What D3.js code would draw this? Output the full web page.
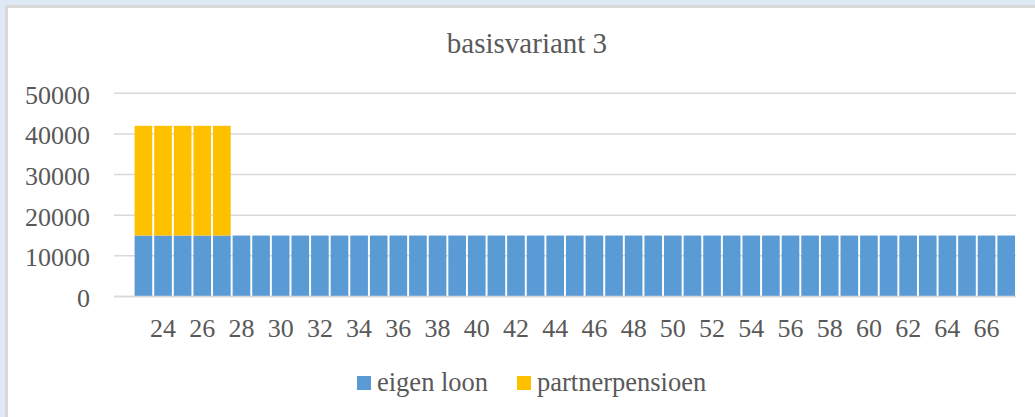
<!DOCTYPE html>
<html>
<head>
<meta charset="utf-8">
<script src="https://cdn.jsdelivr.net/npm/d3@7"></script>
<style>
  html, body { margin: 0; padding: 0; background: #dee9f5; overflow: hidden; }
  #chart { position: absolute; left: 0; top: 0; }
</style>
</head>
<body>
<div id="chart"></div>
<script>
let width = 1035;
let height = 417;

// categories (first one is blank, like in the sheet)
let ages = ["", 23, 24, 25, 26, 27, 28, 29, 30, 31, 32, 33, 34, 35, 36, 37, 38, 39, 40,
            41, 42, 43, 44, 45, 46, 47, 48, 49, 50, 51, 52, 53, 54, 55, 56, 57, 58,
            59, 60, 61, 62, 63, 64, 65, 66, 67];

let eigenLoon = [0, 15000, 15000, 15000, 15000, 15000, 15000, 15000, 15000, 15000, 15000,
                 15000, 15000, 15000, 15000, 15000, 15000, 15000, 15000, 15000, 15000,
                 15000, 15000, 15000, 15000, 15000, 15000, 15000, 15000, 15000, 15000,
                 15000, 15000, 15000, 15000, 15000, 15000, 15000, 15000, 15000, 15000,
                 15000, 15000, 15000, 15000, 15000];

let partnerPensioen = [0, 27000, 27000, 27000, 27000, 27000, 0, 0, 0, 0, 0, 0, 0, 0, 0, 0,
                       0, 0, 0, 0, 0, 0, 0, 0, 0, 0, 0, 0, 0, 0, 0, 0, 0, 0, 0, 0, 0, 0,
                       0, 0, 0, 0, 0, 0, 0, 0];

let yTicks = [0, 10000, 20000, 30000, 40000, 50000];

let seriesNames = ["eigen loon", "partnerpensioen"];
let colors = ["#5b9bd5", "#ffc000"];

let font = '"Liberation Serif", "Times New Roman", Times, serif';
let textColor = "#595959";

let svg = d3.select("#chart").append("svg")
            .attr("width", width)
            .attr("height", height);

// chart area box
svg.append("rect")
   .attr("x", 6.5).attr("y", 6.5)
   .attr("width", width + 20).attr("height", height + 20)
   .attr("fill", "white")
   .attr("stroke", "#d9d9d9")
   .attr("stroke-width", 3);

let plot = {left: 114, right: 1016, top: 93.3, bottom: 296.5};

let x = d3.scaleBand()
          .domain(d3.range(ages.length))
          .range([plot.left, plot.right])
          .paddingInner(0.1)
          .paddingOuter(0.05);

let y = d3.scaleLinear()
          .domain([0, 50000])
          .range([plot.bottom, plot.top]);

// gridlines
svg.append("g")
   .selectAll("line")
   .data(yTicks)
   .join("line")
   .attr("x1", plot.left).attr("x2", plot.right)
   .attr("y1", d => y(d)).attr("y2", d => y(d))
   .attr("stroke", "#d9d9d9")
   .attr("stroke-width", 1.5);

// y axis labels
let yAxis = d3.axisLeft(y).tickValues(yTicks).tickSize(0).tickPadding(24).tickFormat(d3.format("d"));
let yg = svg.append("g").attr("transform", `translate(${plot.left},1.5)`).call(yAxis);
yg.select(".domain").remove();
yg.selectAll("text")
  .style("font-family", font).style("font-size", "26px").style("fill", textColor);

// stacked bars
let rows = ages.map((a, i) => ({i: i, "eigen loon": eigenLoon[i], "partnerpensioen": partnerPensioen[i]}));
let stack = d3.stack().keys(seriesNames)(rows);

svg.append("g")
   .selectAll("g")
   .data(stack)
   .join("g")
   .attr("fill", (d, i) => colors[i])
   .selectAll("rect")
   .data(d => d.filter(p => p[1] > p[0]))
   .join("rect")
   .attr("x", d => x(d.data.i))
   .attr("y", d => y(d[1]))
   .attr("width", x.bandwidth())
   .attr("height", d => y(d[0]) - y(d[1]));

// x axis
let xAxis = d3.axisBottom(x)
              .tickValues(d3.range(ages.length).filter(i => i % 2 === 0))
              .tickFormat(i => ages[i])
              .tickSize(0).tickPadding(22);
let xg = svg.append("g").attr("transform", `translate(0,${plot.bottom})`).call(xAxis);
xg.select(".domain").attr("stroke", "#d9d9d9").attr("stroke-width", 1.5)
  .attr("d", `M${plot.left},0H${plot.right}`);
xg.selectAll("text")
  .style("font-family", font).style("font-size", "26px").style("fill", textColor);

// title
svg.append("text")
   .attr("x", 527).attr("y", 53)
   .attr("text-anchor", "middle")
   .style("font-family", font).style("font-size", "29px").style("fill", textColor)
   .text("basisvariant 3");

// legend
let legendX = [357, 517];
let legend = svg.append("g")
   .selectAll("g")
   .data(seriesNames)
   .join("g")
   .attr("transform", (d, i) => `translate(${legendX[i]},376)`);
legend.append("rect").attr("width", 14).attr("height", 14).attr("fill", (d, i) => colors[i]);
legend.append("text")
      .attr("x", 20).attr("y", 15)
      .style("font-family", font).style("font-size", "26.5px").style("fill", textColor)
      .text(d => d);
</script>
</body>
</html>
